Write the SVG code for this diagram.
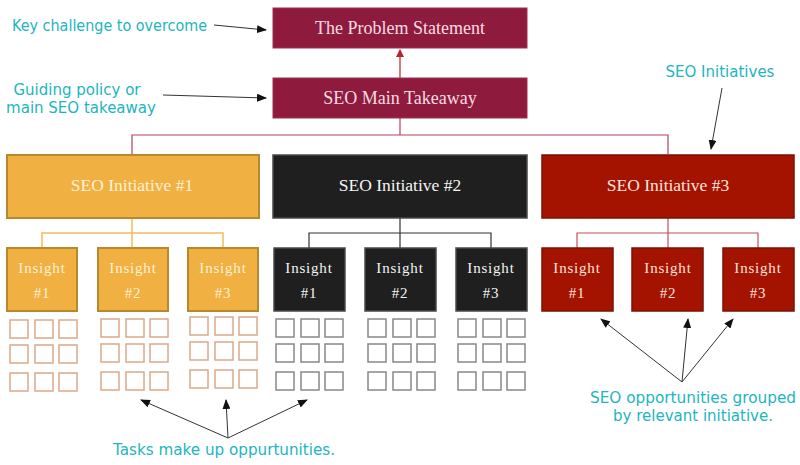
<svg xmlns="http://www.w3.org/2000/svg" width="800" height="465" viewBox="0 0 800 465">
<defs>
<style>
.serif{font-family:"Liberation Serif","DejaVu Serif",serif;text-anchor:middle}
.top{fill:#8e1b3d;stroke:#a0304f;stroke-width:1}
.toptxt{fill:#f9dce3;font-size:18px}
.init{font-size:17.5px}
.ins{font-size:15px;letter-spacing:0.8px}
.o{fill:#f0b042;stroke:#b8892c;stroke-width:2}
.k{fill:#1f1f1f;stroke:#4a4a4a;stroke-width:1.5}
.r{fill:#a31300;stroke:#7d1005;stroke-width:1.5}
.ot{fill:#fdf1d6}
.kt{fill:#f4f4f4}
.rt{fill:#fbe3df}
.to{fill:none;stroke:#dca88a;stroke-width:1.5}
.tk{fill:none;stroke:#888;stroke-width:1.5}
.hand{font-family:"DejaVu Sans","Open Sans",sans-serif;fill:#22b5c0;font-size:15px}
.ann{fill:none;stroke:#333;stroke-width:1}
</style>
<marker id="ah" markerWidth="10" markerHeight="8" refX="9" refY="4" orient="auto" markerUnits="userSpaceOnUse">
<path d="M0,0 L10,4 L0,8 Z" fill="#111"/>
</marker>
<marker id="rh" markerWidth="8" markerHeight="8" refX="7" refY="4" orient="auto" markerUnits="userSpaceOnUse">
<path d="M0,0 L8,4 L0,8 Z" fill="#c0202a"/>
</marker>
<g id="to3">
<rect class="to" x="0" y="0" width="18" height="18"/><rect class="to" x="25" y="0" width="18" height="18"/><rect class="to" x="49" y="0" width="18" height="18"/>
<rect class="to" x="0" y="25" width="18" height="18"/><rect class="to" x="25" y="25" width="18" height="18"/><rect class="to" x="49" y="25" width="18" height="18"/>
<rect class="to" x="0" y="53" width="18" height="18"/><rect class="to" x="25" y="53" width="18" height="18"/><rect class="to" x="49" y="53" width="18" height="18"/>
</g>
<g id="tk3">
<rect class="tk" x="0" y="0" width="18" height="18"/><rect class="tk" x="25" y="0" width="18" height="18"/><rect class="tk" x="49" y="0" width="18" height="18"/>
<rect class="tk" x="0" y="25" width="18" height="18"/><rect class="tk" x="25" y="25" width="18" height="18"/><rect class="tk" x="49" y="25" width="18" height="18"/>
<rect class="tk" x="0" y="53" width="18" height="18"/><rect class="tk" x="25" y="53" width="18" height="18"/><rect class="tk" x="49" y="53" width="18" height="18"/>
</g>
</defs>
<rect width="800" height="465" fill="#fff"/>

<g id="connectors">
<line x1="400" y1="78" x2="400" y2="50" stroke="#c0202a" stroke-width="1.2" marker-end="url(#rh)"/>
<path d="M400,118 V135 M132,154 V135 H668 V154" fill="none" stroke="#b3435f" stroke-width="1.2"/>
<path d="M132,218 V233 M42,248 V233 H223 V248 M132,233 V248" fill="none" stroke="#f0bc62" stroke-width="1.5"/>
<path d="M400,218 V248 M309,248 V233 H491 V248" fill="none" stroke="#333" stroke-width="1.2"/>
<path d="M668,218 V248 M577,248 V233 H758 V248" fill="none" stroke="#c0505a" stroke-width="1.2"/>
</g>

<g id="problem"><rect class="top" x="273" y="8" width="254" height="40"/><text class="serif toptxt" x="400" y="34">The Problem Statement</text></g>
<g id="takeaway"><rect class="top" x="273" y="78" width="254" height="40"/><text class="serif toptxt" x="400" y="104">SEO Main Takeaway</text></g>

<g id="init1"><rect class="o" x="7" y="155" width="252" height="63"/><text class="serif init ot" x="132" y="191">SEO Initiative #1</text></g>
<g id="init2"><rect class="k" x="273" y="155" width="254" height="63"/><text class="serif init kt" x="400" y="191">SEO Initiative #2</text></g>
<g id="init3"><rect class="r" x="542" y="155" width="252" height="63"/><text class="serif init rt" x="668" y="191">SEO Initiative #3</text></g>

<g id="o1"><rect class="o" x="7" y="248" width="70" height="63"/><text class="serif ins ot" x="42" y="273">Insight</text><text class="serif ins ot" x="42" y="298">#1</text></g>
<g id="o2"><rect class="o" x="98" y="248" width="70" height="63"/><text class="serif ins ot" x="133" y="273">Insight</text><text class="serif ins ot" x="133" y="298">#2</text></g>
<g id="o3"><rect class="o" x="188" y="248" width="70" height="63"/><text class="serif ins ot" x="223" y="273">Insight</text><text class="serif ins ot" x="223" y="298">#3</text></g>

<g id="k1"><rect class="k" x="274" y="248" width="71" height="63"/><text class="serif ins kt" x="309" y="273">Insight</text><text class="serif ins kt" x="309" y="298">#1</text></g>
<g id="k2"><rect class="k" x="365" y="248" width="71" height="63"/><text class="serif ins kt" x="400" y="273">Insight</text><text class="serif ins kt" x="400" y="298">#2</text></g>
<g id="k3"><rect class="k" x="456" y="248" width="71" height="63"/><text class="serif ins kt" x="491" y="273">Insight</text><text class="serif ins kt" x="491" y="298">#3</text></g>

<g id="r1"><rect class="r" x="542" y="248" width="71" height="63"/><text class="serif ins rt" x="577" y="273">Insight</text><text class="serif ins rt" x="577" y="298">#1</text></g>
<g id="r2"><rect class="r" x="632" y="248" width="71" height="63"/><text class="serif ins rt" x="668" y="273">Insight</text><text class="serif ins rt" x="668" y="298">#2</text></g>
<g id="r3"><rect class="r" x="723" y="248" width="71" height="63"/><text class="serif ins rt" x="758" y="273">Insight</text><text class="serif ins rt" x="758" y="298">#3</text></g>

<g id="tasks">
<use href="#to3" x="10" y="320"/>
<use href="#to3" x="101" y="319"/>
<use href="#to3" x="190" y="317"/>
<use href="#tk3" x="276" y="319"/>
<use href="#tk3" x="368" y="319"/>
<use href="#tk3" x="458" y="319"/>
</g>

<g id="annotations">
<text class="hand" x="12" y="31" textLength="195" lengthAdjust="spacingAndGlyphs">Key challenge to overcome</text>
<path class="ann" d="M214,25 L266,30" marker-end="url(#ah)"/>
<text class="hand" x="77" y="95" text-anchor="middle">Guiding policy or</text>
<text class="hand" x="81" y="113" text-anchor="middle">main SEO takeaway</text>
<path class="ann" d="M163,95 L266,98" marker-end="url(#ah)"/>
<text class="hand" x="720" y="77" text-anchor="middle">SEO Initiatives</text>
<path class="ann" d="M722,88 L711,149" marker-end="url(#ah)"/>
<path class="ann" d="M228,438 L141,400" marker-end="url(#ah)"/>
<path class="ann" d="M228,438 L226,400" marker-end="url(#ah)"/>
<path class="ann" d="M228,438 L307,400" marker-end="url(#ah)"/>
<text class="hand" x="224" y="455" text-anchor="middle" textLength="222" lengthAdjust="spacingAndGlyphs">Tasks make up oppurtunities.</text>
<path class="ann" d="M682,382 L601,319" marker-end="url(#ah)"/>
<path class="ann" d="M682,382 L688,319" marker-end="url(#ah)"/>
<path class="ann" d="M682,382 L733,319" marker-end="url(#ah)"/>
<text class="hand" x="693" y="403" text-anchor="middle" textLength="206" lengthAdjust="spacingAndGlyphs">SEO opportunities grouped</text>
<text class="hand" x="693" y="421" text-anchor="middle">by relevant initiative.</text>
</g>
</svg>
